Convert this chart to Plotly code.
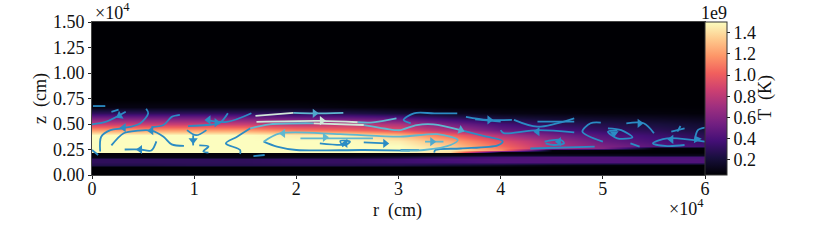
import plotly.graph_objects as go

R_NODES = [0, 0.5, 1, 1.5, 2, 2.5, 3, 3.5, 4, 4.5, 5, 5.5, 6]
Z_NODES = [0, 0.08, 0.095, 0.13, 0.16, 0.18, 0.195, 0.215, 0.219, 0.222, 0.245, 0.265, 0.285,
           0.33, 0.39, 0.44, 0.5, 0.56, 0.61, 0.67, 0.75, 1.5]
T_ROW_000 = [.05] * 13
T_ROW_008 = [.05] * 13
T_ROW_0095 = [.25, .25, .27, .27, .27, .27, .25, .2, .15, .1, .08, .07, .06]
T_ROW_013 = [.3, .3, .3, .3, .32, .32, .35, .38, .42, .42, .42, .42, .42]
T_ROW_016 = [.3, .3, .3, .3, .32, .32, .35, .4, .42, .42, .42, .42, .42]
T_ROW_018 = [.1, .1, .1, .1, .12, .14, .2, .3, .38, .42, .42, .4, .4]
T_ROW_0195 = [.08, .08, .08, .08, .08, .08, .09, .1, .14, .14, .13, .12, .12]
T_ROW_0215 = [.07, .07, .07, .07, .07, .07, .07, .07, .07, .07, .07, .07, .07]
T_ROW_0219 = [.07, .07, .07, .07, .07, .07, .07, .07, .07, .07, .07, .07, .07]
T_ROW_0222 = [1.5, 1.5, 1.5, 1.5, 1.5, 1.5, 1.5, 1.4, .08, .07, .06, .06, .06]
T_ROW_0245 = [1.5, 1.5, 1.5, 1.5, 1.5, 1.5, 1.5, 1.45, 1.15, .08, .07, .06, .06]
T_ROW_0265 = [1.5, 1.5, 1.5, 1.5, 1.5, 1.5, 1.5, 1.4, 1.1, .75, .6, .08, .07]
T_ROW_0285 = [1.5, 1.5, 1.5, 1.5, 1.5, 1.5, 1.5, 1.35, 1.05, .75, .58, .45, .38]
T_ROW_033 = [1.5, 1.5, 1.5, 1.5, 1.5, 1.5, 1.45, 1.25, .95, .7, .5, .4, .33]
T_ROW_039 = [1.5, 1.5, 1.5, 1.5, 1.45, 1.45, 1.3, 1.05, .75, .55, .42, .35, .28]
T_ROW_044 = [1.2, 1.2, 1.2, 1.2, 1.1, 1.05, .95, .75, .5, .4, .32, .28, .22]
T_ROW_050 = [.85, .85, .85, .85, .8, .8, .75, .55, .38, .3, .25, .22, .18]
T_ROW_056 = [.55, .55, .55, .55, .52, .5, .45, .32, .22, .18, .16, .14, .12]
T_ROW_061 = [.3, .3, .3, .3, .28, .25, .2, .14, .1, .09, .08, .08, .07]
T_ROW_067 = [.1, .1, .1, .1, .1, .08, .07, .06, .06, .06, .06, .06, .06]
T_ROW_075 = [.05] * 13
T_ROW_150 = [.05] * 13
T_TABLE = [T_ROW_000, T_ROW_008, T_ROW_0095, T_ROW_013, T_ROW_016, T_ROW_018, T_ROW_0195, T_ROW_0215,
           T_ROW_0219, T_ROW_0222, T_ROW_0245, T_ROW_0265, T_ROW_0285, T_ROW_033, T_ROW_039,
           T_ROW_044, T_ROW_050, T_ROW_056, T_ROW_061, T_ROW_067, T_ROW_075, T_ROW_150]

BLUE_LINES = [
    ([0, .14, .33], [.497, .523, .62]),
    ([.08, .09, .18, .31, .47, .55, .53], [.23, .375, .44, .46, .506, .605, .65]),
    ([.19, .31, .45, .58, .70, .78, .90], [.29, .41, .435, .435, .375, .30, .285]),
    ([.32, .47, .58, .63], [.25, .25, .24, .33]),
    ([.58, .70, .78, .86], [.47, .49, .57, .59]),
    ([.94, 1.12, 1.25, 1.33], [.48, .49, .51, .605]),
    ([.93, 1.02, 1.12], [.44, .39, .44]),
    ([.99, .99], [.39, .29]),
    ([1.05, 1.14, 1.09, 1.14], [.29, .28, .23, .22]),
    ([1.115, 1.32, 1.56], [.54, .52, .605]),
    ([1.45, 1.45, 1.31, 1.42, 1.55], [.206, .245, .31, .376, .458]),
    ([1.68, 1.81, 2.0, 2.66, 3.11], [.327, .278, .245, .245, .239]),
    ([2.23, 2.49, 2.525, 2.43, 2.46], [.31, .30, .327, .333, .278]),
    ([2.66, 2.88], [.32, .31]),
    ([3.02, 3.2], [.245, .245]),
    ([3.61, 3.8, 4.02, 3.97, 3.61, 3.36, 3.35], [.44, .39, .33, .29, .26, .245, .22]),
    ([3.12, 3.05, 3.15, 3.35, 3.575], [.507, .54, .605, .605, .605]),
    ([3.66, 3.87, 4.11], [.57, .54, .54]),
    ([3.75, 4.0], [.546, .523]),
    ([4.13, 4.36, 4.72], [.54, .474, .556]),
    ([4.36, 4.72], [.523, .523]),
    ([4.0, 4.03, 4.36, 4.72], [.44, .41, .44, .418]),
    ([4.98, 4.88, 4.8, 5.0], [.513, .507, .425, .327]),
    ([5.05, 5.18, 5.29, 5.14, 5.05, 5.14], [.458, .44, .37, .36, .425, .44]),
    ([5.23, 5.4, 5.5], [.507, .507, .41]),
    ([5.67, 5.8], [.425, .458]),
    ([5.73, 5.76], [.425, .48]),
    ([6.0, 5.63, 5.49, 5.63, 5.8], [.327, .36, .31, .284, .294]),
    ([5.9, 5.93, 6.0], [.343, .44, .464]),
    ([4.43, 4.59, 4.62, 4.52, 4.44], [.327, .343, .31, .294, .31]),
    ([4.29, 4.92], [.26, .278]),
    ([5.27, 5.36], [.31, .278]),
    ([.01, .13], [.676, .676]),
    ([.19, .26], [.62, .64]),
    ([0, .06], [.245, .196]),
    ([1.58, 1.69], [.186, .196]),
]
TEAL_LINES = [
    ([1.55, 1.74, 2.17], [.458, .497, .507]),
    ([2.66, 2.98, 3.02, 3.18, 3.34, 3.61], [.49, .44, .44, .49, .497, .44]),
    ([1.97, 2.17, 2.46], [.61, .605, .61]),
    ([2.6, 2.75, 2.98], [.517, .516, .555]),
    ([1.68, 1.84, 2.43, 3.02, 3.38, 3.58, 3.51, 3.25, 3.02], [.327, .408, .40, .376, .40, .343, .294, .245, .239]),
    ([2.04, 2.75], [.36, .36]),
    ([3.26, 3.44], [.327, .327]),
]
PALE_LINES = [
    ([1.6, 1.97], [.58, .61]),
    ([1.61, 2.23, 2.6], [.52, .53, .517]),
    ([2.17, 2.66], [.507, .49]),
]
ARROW_R = [.31, .58, .47, .27, 1.22, 1.14, .99, 2.18, 2.25, 1.87, 2.28, 2.48, 2.87, 3.33, 3.61, 3.89, 4.36, 4.57, 5.11, 5.36, 5.67, 5.92]
ARROW_Z = [.464, .435, .25, .58, .513, .54, .34, .605, .533, .408, .37, .31, .31, .327, .44, .54, .425, .327, .41, .507, .35, .35]
ARROW_ANGLE = [180, 180, 180, 150, 0, 180, 90, 0, 0, 180, 0, 180, 0, 0, 20, 0, 180, 180, 90, 0, 180, 240]
ARROW_COLOR = ["#2b8cc4"] * 7 + ["#4fa8cc", "#cfe8d8", "#5fb8d0", "#5fb8d0", "#2b8cc4", "#2b8cc4", "#4fa8cc", "#4fa8cc"] + ["#2b8cc4"] * 7

SERIF = "Liberation Serif"
fig = go.Figure()
fig.add_trace(go.Heatmap(
    x=R_NODES, y=Z_NODES, z=T_TABLE, zsmooth="best", colorscale="Magma", zmin=0.057, zmax=1.5,
    hoverinfo="skip",
    colorbar=dict(x=1.0, xanchor="left", xpad=0, ypad=0, y=0, yanchor="bottom", len=153, lenmode="pixels",
                  thickness=22, thicknessmode="pixels", outlinecolor="#333", outlinewidth=1,
                  tickvals=[.2, .4, .6, .8, 1.0, 1.2, 1.4], ticktext=["0.2", "0.4", "0.6", "0.8", "1.0", "1.2", "1.4"],
                  ticks="outside", ticklen=3, tickcolor="#222", tickfont=dict(family=SERIF, size=18, color="#111")),
))
for group, color in ((BLUE_LINES, "#2b8cc4"), (TEAL_LINES, "#5fb8d0"), (PALE_LINES, "#cfe8d8")):
    for rs, zs in group:
        fig.add_trace(go.Scatter(x=rs, y=zs, mode="lines", hoverinfo="skip", showlegend=False,
                                 line=dict(color=color, width=1.8, shape="spline", smoothing=0.9)))
fig.add_trace(go.Scatter(x=ARROW_R, y=ARROW_Z, mode="markers", hoverinfo="skip", showlegend=False,
                         marker=dict(symbol="triangle-right", size=8, angle=ARROW_ANGLE, color=ARROW_COLOR, line=dict(width=0))))

axis = dict(showgrid=False, zeroline=False, showline=True, linecolor="#444", linewidth=1, mirror=True,
            ticks="outside", ticklen=3, tickcolor="#222", tickfont=dict(family=SERIF, size=18, color="#111"))
fig.update_layout(
    width=830, height=245, autosize=False, margin=dict(l=92, r=125, t=22, b=70),
    paper_bgcolor="white", plot_bgcolor="black", showlegend=False,
    xaxis=dict(axis, range=[0, 6], tickvals=[0, 1, 2, 3, 4, 5, 6], ticklabelstandoff=-6),
    yaxis=dict(axis, range=[0, 1.5], tickvals=[0, .25, .5, .75, 1, 1.25, 1.5], tickformat=".2f"),
)
text_font = dict(family=SERIF, size=18, color="#111")
for txt, x, y, rot, anchor in [
    ("r\u00a0\u00a0(cm)", 397, 210, 0, "center"),
    ("z\u00a0\u00a0(cm)", 40, 98, -90, "center"),
    ("×10<sup>4</sup>", 93, 11, 0, "left"),
    ("×10<sup>4</sup>", 706, 207, 0, "right"),
    ("1e9", 714, 13, 0, "center"),
    ("T\u00a0\u00a0(K)", 765, 98, -90, "center"),
]:
    # window pixels converted to fractions of the plot area
    fig.add_annotation(text=txt, x=(x - 92) / 613, y=1 - (y - 22) / 153, xref="paper", yref="paper", showarrow=False,
                       textangle=rot, xanchor=anchor, yanchor="middle", font=text_font)
fig.write_html("out.html", post_script="document.body.style.margin='0';", config={"displayModeBar": False})
